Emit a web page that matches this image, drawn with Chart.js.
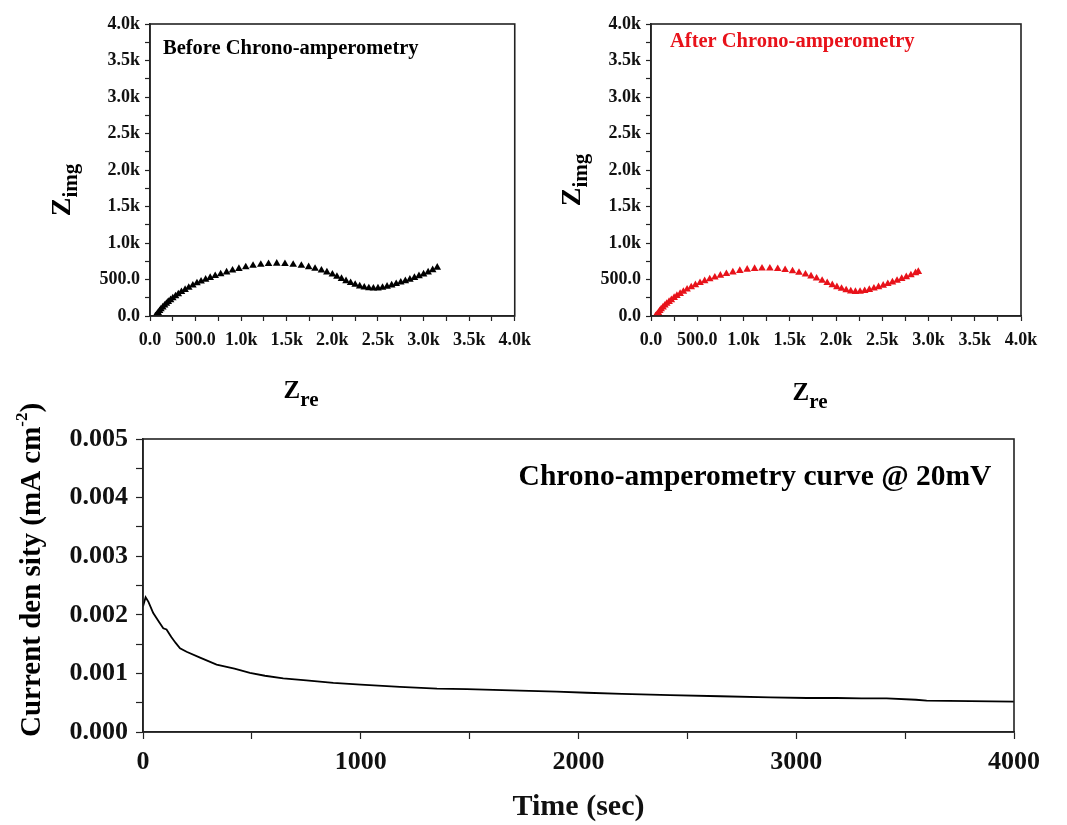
<!DOCTYPE html>
<html>
<head>
<meta charset="utf-8">
<script src="https://cdn.jsdelivr.net/npm/chart.js@4"></script>
<style>
  body { margin: 0; background: #fff; }
  canvas { position: absolute; }
</style>
</head>
<body>
<canvas id="beforeChart" width="540" height="420" style="left:0;top:0"></canvas>
<canvas id="afterChart" width="527" height="420" style="left:540px;top:0"></canvas>
<canvas id="caChart" width="1067" height="445" style="left:0;top:380px"></canvas>
<script>
  // Nyquist before chrono-amperometry
  var beforeZre = [60, 75, 90, 105, 120, 140, 160, 180, 200, 225, 250, 280, 310, 345, 385, 425, 470, 515, 560, 610,
    660, 715, 775, 840, 905, 975, 1050, 1130, 1215, 1300, 1390, 1480, 1570, 1660, 1740, 1810, 1880, 1940, 2000, 2050,
    2100, 2150, 2200, 2250, 2300, 2350, 2400, 2450, 2500, 2550, 2600, 2650, 2700, 2750, 2800, 2850, 2900, 2950, 3000,
    3050, 3100, 3150];
  var beforeZimg = [0, 20, 45, 70, 95, 120, 145, 170, 195, 220, 245, 272, 300, 330, 360, 390, 420, 450, 475, 500,
    525, 550, 575, 600, 625, 648, 670, 690, 705, 715, 720, 715, 705, 690, 672, 650, 625, 600, 570, 540,
    510, 480, 455, 430, 408, 392, 382, 378, 380, 390, 405, 422, 440, 460, 480, 500, 525, 548, 572,
    600, 630, 665];

  // Nyquist after chrono-amperometry
  var afterZre = [50, 65, 80, 95, 110, 130, 150, 170, 195, 220, 250, 280, 315, 350, 390, 435, 480, 530, 580, 635,
    690, 750, 815, 885, 960, 1040, 1120, 1200, 1285, 1370, 1450, 1530, 1600, 1670, 1730, 1790, 1850, 1905, 1960, 2010,
    2060, 2110, 2160, 2210, 2260, 2310, 2360, 2410, 2460, 2510, 2560, 2610, 2660, 2710, 2760, 2810, 2860, 2890];
  var afterZimg = [0, 20, 45, 70, 95, 120, 145, 170, 195, 220, 250, 278, 305, 335, 365, 395, 425, 455, 480, 505,
    530, 555, 578, 600, 620, 637, 648, 653, 652, 645, 632, 615, 595, 570, 545, 515, 485, 455, 425, 398,
    375, 355, 340, 333, 335, 345, 360, 378, 398, 418, 440, 462, 485, 510, 535, 560, 590, 607];

  // chrono-amperometry @ 20mV
  var timeSec = [0, 12, 25, 47, 70, 93, 108, 130, 150, 170, 200, 262, 338, 420, 491, 560, 644, 750, 874, 1000,
    1180, 1350, 1487, 1731, 1900, 2038, 2200, 2420, 2650, 2880, 3050, 3186, 3300, 3415, 3550, 3599, 3800, 4000];
  var currentDensity = [0.00214, 0.00230, 0.00222, 0.00203, 0.00190, 0.00177, 0.00175, 0.00162, 0.00152, 0.00143,
    0.00137, 0.00127, 0.00115, 0.00108, 0.00101, 0.00096, 0.000915, 0.00088, 0.00084, 0.00081,
    0.00077, 0.00074, 0.00073, 0.000705, 0.00069, 0.00067, 0.00065, 0.00063, 0.00061, 0.00059,
    0.00058, 0.00058, 0.000575, 0.000575, 0.00055, 0.000535, 0.000528, 0.000517];

  var SERIF = '"Liberation Serif", "Times New Roman", serif';
  var AXIS = '#222';

  // frame around the plot + texts with sub/superscripts
  var richText = {
    id: 'richText',
    afterDraw: function (chart, args, opts) {
      var ctx = chart.ctx, a = chart.chartArea;
      ctx.save();
      ctx.strokeStyle = AXIS;
      ctx.lineWidth = 1.6;
      ctx.strokeRect(a.left, a.top, a.right - a.left, a.bottom - a.top);
      ctx.restore();
      (opts.items || []).forEach(function (it) {
        ctx.save();
        ctx.translate(it.x, it.y);
        if (it.rotate) ctx.rotate(it.rotate);
        ctx.fillStyle = it.color || '#000';
        ctx.textBaseline = 'alphabetic';
        ctx.textAlign = 'left';
        var total = 0;
        it.parts.forEach(function (p) {
          ctx.font = 'bold ' + p.size + 'px ' + SERIF;
          p.w = ctx.measureText(p.t).width;
          total += p.w;
        });
        var x = it.align === 'left' ? 0 : -total / 2;
        it.parts.forEach(function (p) {
          ctx.font = 'bold ' + p.size + 'px ' + SERIF;
          ctx.fillText(p.t, x, p.dy || 0);
          x += p.w;
        });
        ctx.restore();
      });
    }
  };

  function kLabel(v) {
    if (v % 500 !== 0) return '';
    if (v === 0) return '0.0';
    if (v < 1000) return v.toFixed(1);
    return (v / 1000).toFixed(1) + 'k';
  }

  function nyquist(id, xs, ys, color, yAxisWidth, rightPad, items) {
    var pts = xs.map(function (x, i) { return { x: x, y: ys[i] }; });
    return new Chart(document.getElementById(id), {
      type: 'scatter',
      data: {
        datasets: [{
          data: pts,
          pointStyle: 'triangle',
          pointRadius: 4.4,
          backgroundColor: color,
          borderColor: color,
          borderWidth: 0,
          showLine: false
        }]
      },
      options: {
        responsive: false,
        animation: false,
        layout: { padding: { left: 0, right: rightPad, top: 24, bottom: 0 } },
        plugins: { legend: { display: false }, tooltip: { enabled: false }, richText: { items: items } },
        scales: {
          x: {
            type: 'linear', min: 0, max: 4000,
            afterFit: function (s) { s.height = 104; },
            border: { color: AXIS, width: 1.6 },
            grid: { drawOnChartArea: false, tickLength: 5, color: AXIS, tickWidth: 1.2 },
            ticks: {
              stepSize: 250, autoSkip: false, maxRotation: 0, minRotation: 0, padding: 9,
              color: '#111', font: { family: SERIF, size: 18, weight: 'bold' }, callback: kLabel
            }
          },
          y: {
            type: 'linear', min: 0, max: 4000,
            afterFit: function (s) { s.width = yAxisWidth; },
            border: { color: AXIS, width: 1.6 },
            grid: { drawOnChartArea: false, tickLength: 5, color: AXIS, tickWidth: 1.2 },
            ticks: {
              stepSize: 250, autoSkip: false, padding: 5,
              color: '#111', font: { family: SERIF, size: 18, weight: 'bold' }, callback: kLabel
            }
          }
        }
      },
      plugins: [richText]
    });
  }

  nyquist('beforeChart', beforeZre, beforeZimg, '#000', 150, 22, [
    { x: 163, y: 54, align: 'left', parts: [{ t: 'Before Chrono-amperometry', size: 20.5 }] },
    { x: 70, y: 190, rotate: -Math.PI / 2, parts: [{ t: 'Z', size: 28 }, { t: 'img', size: 21, dy: 7 }] },
    { x: 301, y: 398, parts: [{ t: 'Z', size: 25 }, { t: 're', size: 21, dy: 8 }] }
  ]);

  nyquist('afterChart', afterZre, afterZimg, '#e8121a', 111, 46, [
    { x: 130, y: 47, align: 'left', color: '#e8121a', parts: [{ t: 'After Chrono-amperometry', size: 20.5 }] },
    { x: 40, y: 180, rotate: -Math.PI / 2, parts: [{ t: 'Z', size: 28 }, { t: 'img', size: 21, dy: 7 }] },
    { x: 270, y: 400, parts: [{ t: 'Z', size: 25 }, { t: 're', size: 21, dy: 8 }] }
  ]);

  var caPoints = timeSec.map(function (t, i) { return { x: t, y: currentDensity[i] }; });

  new Chart(document.getElementById('caChart'), {
    type: 'line',
    data: {
      datasets: [{
        data: caPoints,
        borderColor: '#000',
        borderWidth: 1.8,
        pointRadius: 0,
        tension: 0,
        fill: false
      }]
    },
    options: {
      responsive: false,
      animation: false,
      layout: { padding: { left: 0, right: 53, top: 59, bottom: 0 } },
      plugins: {
        legend: { display: false }, tooltip: { enabled: false },
        richText: {
          items: [
            { x: 755, y: 105, parts: [{ t: 'Chrono-amperometry curve @ 20mV', size: 29.5 }] },
            { x: 40, y: 357, rotate: -Math.PI / 2, align: 'left',
              parts: [{ t: 'Current den sity (mA cm', size: 29 }, { t: '-2', size: 17, dy: -13 }, { t: ')', size: 29 }] }
          ]
        }
      },
      scales: {
        x: {
          type: 'linear', min: 0, max: 4000,
          afterFit: function (s) { s.height = 93; },
          border: { color: AXIS, width: 1.6 },
          grid: { drawOnChartArea: false, tickLength: 7, color: AXIS, tickWidth: 1.2 },
          title: { display: true, text: 'Time (sec)', color: '#111', padding: { top: 0, bottom: 0 },
            font: { family: SERIF, size: 30, weight: 'bold' } },
          ticks: {
            stepSize: 500, autoSkip: false, maxRotation: 0, padding: 8, color: '#111',
            font: { family: SERIF, size: 26, weight: 'bold' },
            callback: function (v) { return v % 1000 === 0 ? String(v) : ''; }
          }
        },
        y: {
          type: 'linear', min: 0, max: 0.005,
          afterFit: function (s) { s.width = 143; },
          border: { color: AXIS, width: 1.6 },
          grid: { drawOnChartArea: false, tickLength: 7, color: AXIS, tickWidth: 1.2 },
          ticks: {
            stepSize: 0.0005, autoSkip: false, padding: 8, color: '#111',
            font: { family: SERIF, size: 26, weight: 'bold' },
            callback: function (v) { return Math.round(v * 2000) % 2 === 0 ? v.toFixed(3) : ''; }
          }
        }
      }
    },
    plugins: [richText]
  });
</script>
</body>
</html>
